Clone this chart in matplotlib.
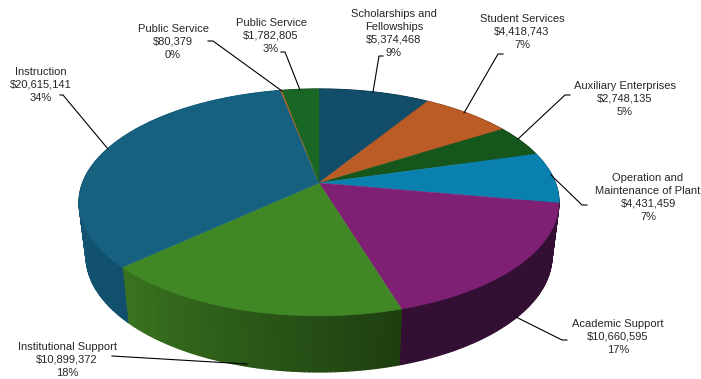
import numpy as np
import matplotlib
matplotlib.use('Agg')
import matplotlib.pyplot as plt
from matplotlib.collections import PolyCollection
from matplotlib.colors import to_rgb

plt.rcParams['font.family'] = ['Liberation Sans', 'DejaVu Sans']

# Spending per category, clockwise from twelve o'clock
categories = ['Scholarships and\nFellowships', 'Student Services', 'Auxiliary Enterprises',
              'Operation and\nMaintenance of Plant', 'Academic Support', 'Institutional Support',
              'Instruction', 'Public Service', 'Public Service']
amounts = [5374468, 4418743, 2748135, 4431459, 10660595, 10899372, 20615141, 80379, 1782805]
percent_labels = ['9%', '7%', '5%', '7%', '17%', '18%', '34%', '0%', '3%']

top_colors = ['#124d69', '#bb5b25', '#14561c', '#0a80ae', '#7f2075', '#3f8825', '#166080', '#c06a2a', '#1a6725']
# wall shade at the start and end of each slice
wall_colors = [('#0c3448', '#0c3448'), ('#7c3c18', '#7c3c18'), ('#0d3812', '#0d3812'),
               ('#075a7a', '#075a7a'), ('#330f33', '#330f33'), ('#1e3f10', '#3a7420'),
               ('#114f6c', '#14607f'), ('#7c3c18', '#7c3c18'), ('#104216', '#104216')]

# label centre x, first line y, then the leader line
label_x = [394, 522, 625, 648, 618, 67, 41, 173, 271]
label_y = [14, 19, 86, 178, 324, 347, 72, 29, 23]
leaders = [
    [(383, 56), (379, 56), (373, 92)],
    [(503, 54), (498, 54), (464, 113)],
    [(570, 95), (565, 95), (518, 139)],
    [(587, 205), (582, 205), (551, 175)],
    [(567, 340), (562, 340), (516, 317)],
    [(112, 356), (247, 364)],
    [(60, 95), (63, 95), (108, 149)],
    [(208, 41), (213, 41), (282, 91)],
    [(281, 52), (285, 52), (300, 90)],
]

CX, CY = 319, 183


def top_point(theta):
    # perspective view of the upper disc, theta clockwise from the back
    u, v = np.sin(theta), np.cos(theta)
    w = 1 + 0.1718 * v
    return CX + 236.4 * u / w, CY - 110.1 * v / w


def bottom_point(theta):
    u, v = np.sin(theta), np.cos(theta)
    w = 1 + 0.1718 * v
    return CX + 229.5 * u / w, 236 - 112.6 * v / w


fig = plt.figure(figsize=(7.01, 3.79), dpi=100)
ax = fig.add_axes([0, 0, 1, 1])
ax.set_xlim(0, 701)
ax.set_ylim(379, 0)
ax.axis('off')

fractions = np.array(amounts) / sum(amounts)
edges = np.concatenate([[0], np.cumsum(fractions)]) * 2 * np.pi

# side walls, in narrow strips so the shading can change along the rim
for i in range(len(amounts)):
    n = max(int(fractions[i] * 400), 2)
    ts = np.linspace(edges[i], edges[i + 1], n + 1)
    c0, c1 = np.array(to_rgb(wall_colors[i][0])), np.array(to_rgb(wall_colors[i][1]))
    polys, cols = [], []
    for j in range(n):
        t0, t1 = ts[j], ts[j + 1]
        polys.append([top_point(t0), top_point(t1), bottom_point(t1), bottom_point(t0)])
        cols.append(c0 + (c1 - c0) * j / n)
    ax.add_collection(PolyCollection(polys, facecolors=cols, edgecolors=cols, linewidths=0.9))

# upper face
for i in range(len(amounts)):
    ts = np.linspace(edges[i], edges[i + 1], 80)
    xs, ys = top_point(ts)
    ax.fill(np.r_[CX, xs], np.r_[CY, ys], color=top_colors[i], lw=0.3)

# labels and leaders
for i, name in enumerate(categories):
    text = f'{name}\n${amounts[i]:,}\n{percent_labels[i]}'
    ax.text(label_x[i], label_y[i] - 5, text, ha='center', va='top', fontsize=8,
            color='#262626', linespacing=1.36)
    pts = np.array(leaders[i])
    ax.plot(pts[:, 0], pts[:, 1], color='black', lw=0.8, solid_joinstyle='miter')

fig.savefig('out.png', dpi=100)
